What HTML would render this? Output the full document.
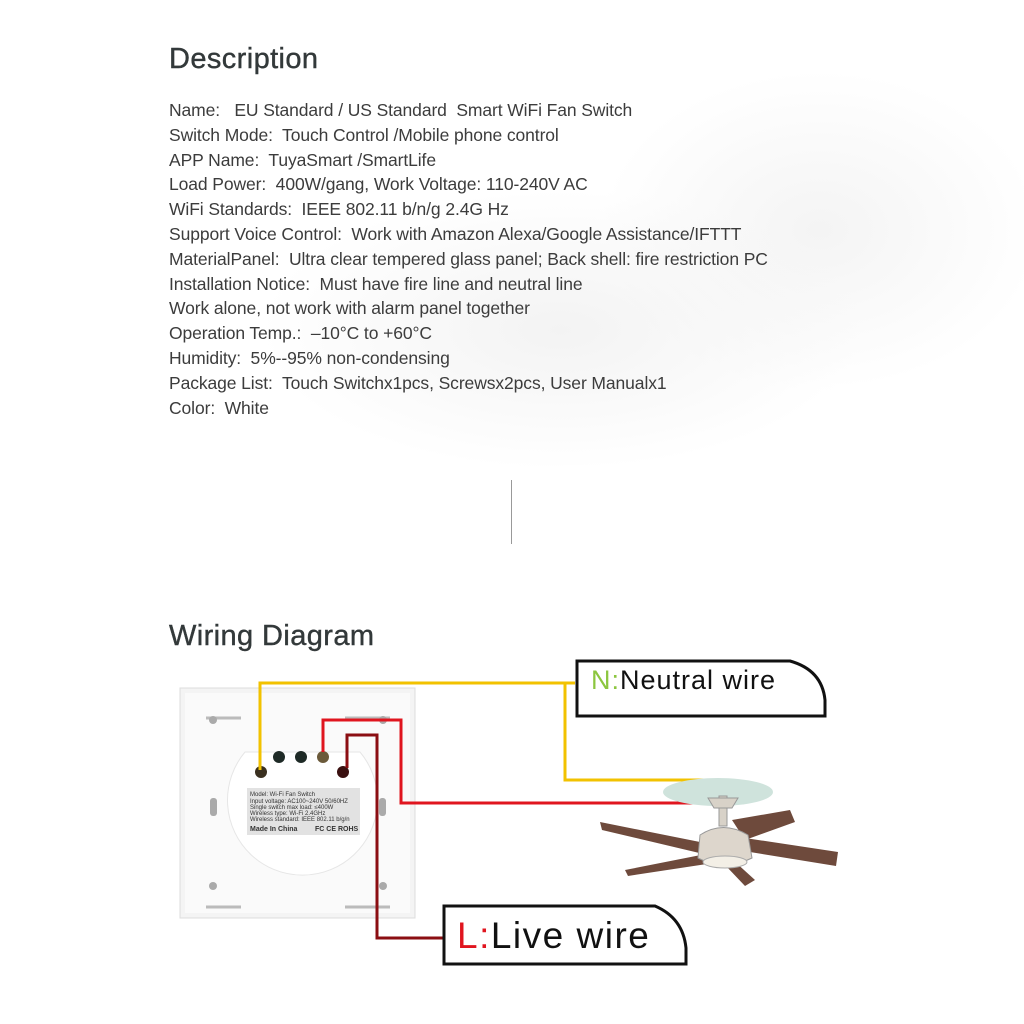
<!DOCTYPE html>
<html><head><style>
body{margin:0;width:1024px;height:1024px;overflow:hidden;background:#fff;font-family:"Liberation Sans",sans-serif;position:relative}
.bg{position:absolute;inset:0;background:
radial-gradient(300px 140px at 560px 330px,#f3f3f3,rgba(255,255,255,0)),
radial-gradient(220px 160px at 820px 230px,#f4f4f4,rgba(255,255,255,0));}
h2{position:absolute;margin:0;font-weight:normal;color:#33393a;font-size:29px;letter-spacing:0.4px;-webkit-text-stroke:0.4px #33393a}
.t{position:absolute;left:169px;top:98px;font-size:17.5px;line-height:24.8px;color:#3c3c3c;white-space:pre;letter-spacing:-0.1px}
</style></head><body>
<div class="bg"></div>
<div style="position:absolute;left:165px;top:465px;width:283px;height:92px;background:#fff"></div>
<div style="position:absolute;left:563px;top:465px;width:257px;height:92px;background:#fff"></div>
<div style="position:absolute;left:511px;top:480px;width:1px;height:64px;background:#999"></div>
<h2 style="left:169px;top:43px">Description</h2>
<div class="t">Name:   EU Standard / US Standard  Smart WiFi Fan Switch
Switch Mode:  Touch Control /Mobile phone control
APP Name:  TuyaSmart /SmartLife
Load Power:  400W/gang, Work Voltage: 110-240V AC
WiFi Standards:  IEEE 802.11 b/n/g 2.4G Hz
Support Voice Control:  Work with Amazon Alexa/Google Assistance/IFTTT
MaterialPanel:  Ultra clear tempered glass panel; Back shell: fire restriction PC
Installation Notice:  Must have fire line and neutral line
Work alone, not work with alarm panel together
Operation Temp.:  –10°C to +60°C
Humidity:  5%--95% non-condensing
Package List:  Touch Switchx1pcs, Screwsx2pcs, User Manualx1
Color:  White</div>
<h2 style="left:169px;top:620px">Wiring Diagram</h2>
<svg width="1024" height="1024" style="position:absolute;left:0;top:0">
<rect x="180" y="688" width="235" height="230" fill="#f4f4f4" stroke="#ddd"/>
<rect x="185" y="693" width="225" height="220" fill="#fafafa"/>
<g stroke="#bbb" stroke-width="3"><line x1="206" y1="718" x2="241" y2="718"/><line x1="345" y1="718" x2="390" y2="718"/><line x1="206" y1="907" x2="241" y2="907"/><line x1="345" y1="907" x2="390" y2="907"/></g>
<g fill="#aaa"><circle cx="213" cy="720" r="4"/><circle cx="383" cy="720" r="4"/><circle cx="213" cy="886" r="4"/><circle cx="383" cy="886" r="4"/><rect x="210" y="798" width="7" height="18" rx="3"/><rect x="379" y="798" width="7" height="18" rx="3"/></g>
<path d="M245 752 L360 752 A75 75 0 1 1 245 752Z" fill="#fff" stroke="#e6e6e6"/>
<rect x="247" y="788" width="113" height="47" fill="#e2e2e2"/>
<g font-size="6" fill="#333"><text x="250" y="796">Model:  Wi-Fi Fan Switch</text><text x="250" y="803">Input voltage:  AC100~240V  50/60HZ</text><text x="250" y="809">Single switch max load:  ≤400W</text><text x="250" y="815">Wireless type:  Wi-Fi 2.4GHz</text><text x="250" y="821">Wireless standard:  IEEE 802.11 b/g/n</text><text x="250" y="831" font-size="7" font-weight="bold">Made In China</text><text x="315" y="831" font-size="7" font-weight="bold">FC CE ROHS</text></g>
<g fill="#1e2a26"><circle cx="279" cy="757" r="6"/><circle cx="301" cy="757" r="6"/><circle cx="323" cy="757" r="6" fill="#6b5a3a"/><circle cx="261" cy="772" r="6" fill="#3a3020"/><circle cx="343" cy="772" r="6" fill="#3a1010"/></g>
<polyline points="260,770 260,683 575,683" fill="none" stroke="#f2c200" stroke-width="3"/>
<polyline points="565,683 565,780 705,780" fill="none" stroke="#f2c200" stroke-width="3"/>
<polyline points="323,752 323,720 401,720 401,803 708,803" fill="none" stroke="#e0151f" stroke-width="3"/>
<polyline points="347,768 347,735 377,735 377,938 443,938" fill="none" stroke="#8b0e12" stroke-width="3"/>
<path d="M577 661 H790 Q822 670 825 700 V716 H577Z" fill="#fff" stroke="#111" stroke-width="3"/>
<text x="591" y="689" font-size="27" letter-spacing="1" fill="#111"><tspan fill="#8cc63f">N:</tspan>Neutral wire</text>
<path d="M444 906 H655 Q683 918 686 948 V964 H444Z" fill="#fff" stroke="#111" stroke-width="3"/>
<text x="457" y="948" font-size="37" letter-spacing="1.5" fill="#111"><tspan fill="#e0151f">L:</tspan>Live wire</text>
<ellipse cx="718" cy="792" rx="55" ry="14" fill="#cfe3dc"/>
<g fill="#6e4a3c">
<polygon points="732,820 790,810 795,822 745,840"/>
<polygon points="745,838 838,852 836,866 750,852"/>
<polygon points="720,846 600,822 602,830 712,856"/>
<polygon points="716,852 625,870 628,876 720,862"/>
<polygon points="733,860 755,880 745,886 726,866"/>
</g>
<rect x="719" y="796" width="8" height="30" fill="#d8d2c8" stroke="#999"/>
<path d="M708 798 L738 798 L732 808 L714 808Z" fill="#d8d2c8" stroke="#999"/>
<path d="M700 835 Q723 820 748 835 L752 858 Q724 872 698 858Z" fill="#ddd6cc" stroke="#999"/>
<ellipse cx="725" cy="862" rx="22" ry="6" fill="#f3efe6" stroke="#aaa"/>
</svg>
</body></html>
